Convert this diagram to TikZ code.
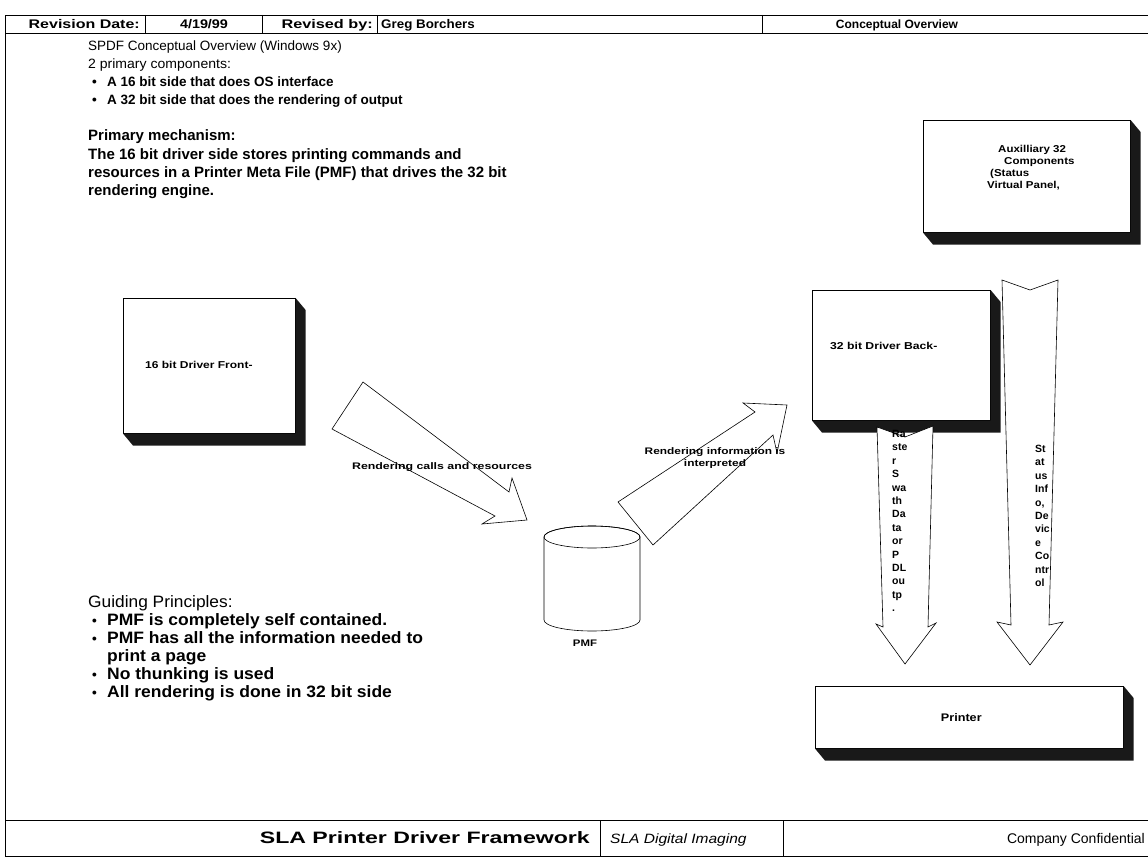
\documentclass[tikz,border=0pt]{standalone}
\usepackage{fontspec}
\setmainfont{Liberation Sans}
\usetikzlibrary{calc}
\newcommand{\sx}[2]{\scalebox{#1}[1]{#2}}
\newcommand{\bul}{{\fontsize{13.5}{16}\selectfont\makebox[19pt][l]{\hspace{4pt}\textbullet}}}
\begin{document}
\begin{tikzpicture}[x=1pt,y=-1pt,
  frameline/.style={line width=0.9pt},
  thinline/.style={line width=0.6pt},
  face/.style={draw, fill=white, line width=0.6pt, inner sep=0, anchor=north west},
  shade/.style={fill=black!90},
  blockarrow/.style={draw, fill=white, line width=0.6pt, line join=miter},
  hdr/.style={anchor=base, inner sep=0, font=\fontsize{12.5}{14}\selectfont\bfseries},
  body/.style={anchor=base west, inner sep=0, font=\fontsize{13.5}{16}\selectfont},
  bodyb/.style={body, font=\fontsize{13.5}{16}\selectfont\bfseries},
  bodyc/.style={body, font=\fontsize{15}{16}\selectfont\bfseries},
  bodyg/.style={body, font=\fontsize{16.5}{18}\selectfont\bfseries},
  dtxt/.style={inner sep=0, font=\fontsize{9.5}{12}\selectfont\bfseries},
  vtxt/.style={inner sep=0, anchor=north west, align=left, font=\fontsize{10.5}{13.4}\selectfont\bfseries}
]
\useasboundingbox (0,0) rectangle (1148,858);

% ---------- frame ----------
\draw[frameline] (1148,15) -- (5,15) -- (5,856) -- (1148,856);
\draw[frameline] (5,33) -- (1148,33);
\draw[frameline] (5,820) -- (1148,820);
\draw[thinline] (145,15) -- (145,33);
\draw[thinline] (262,15) -- (262,33);
\draw[thinline] (377,15) -- (377,33);
\draw[thinline] (762,15) -- (762,33);
\draw[thinline] (600,820) -- (600,856);
\draw[thinline] (783,820) -- (783,856);

% ---------- header ----------
\node[hdr, anchor=base east] (h1) at (140,28.5) {\sx{1.28}{Revision Date:}};
\node[hdr] (h2) at (204,28.5) {\sx{1.15}{4/19/99}};
\node[hdr, anchor=base east] (h3) at (373,28.5) {\sx{1.3}{Revised by:}};
\node[hdr, anchor=base west] (h4) at (381,28.5) {\sx{1.07}{Greg Borchers}};
\node[hdr, font=\fontsize{12}{14}\selectfont\bfseries] (h5) at (897,28.5) {Conceptual Overview};

% ---------- footer ----------
\node[anchor=base east, inner sep=0, font=\fontsize{16.5}{18}\selectfont\bfseries] (f1) at (590,843) {\sx{1.4}{SLA Printer Driver Framework}};
\node[anchor=base west, inner sep=0, font=\fontsize{13.5}{16}\selectfont\itshape] (f2) at (610,843) {\sx{1.15}{SLA Digital Imaging}};
\node[anchor=base east, inner sep=0, font=\fontsize{14}{16}\selectfont] (f3) at (1145,843) {Company Confidential};

% ---------- left text ----------
\node[body] (t1) at (88,51) {SPDF Conceptual Overview (Windows 9x)};
\node[body] (t2) at (88,69) {\sx{1.04}{2 primary components:}};
\node[bodyb] (t3) at (88,87) {\bul A 16 bit side that does OS interface};
\node[bodyb] (t4) at (88,105) {\bul A 32 bit side that does the rendering of output};
\node[bodyc] (t5) at (88,141) {Primary mechanism:};
\node[bodyc] (t6) at (88,160) {The 16 bit driver side stores printing commands and};
\node[bodyc] (t7) at (88,178) {resources in a Printer Meta File (PMF) that drives the 32 bit};
\node[bodyc] (t8) at (88,196) {rendering engine.};

\node[body, font=\fontsize{16.5}{18}\selectfont] (g1) at (88,607) {\sx{1.05}{Guiding Principles:}};
\node[bodyg] (g2) at (88,625) {\bul\sx{1.06}{PMF is completely self contained.}};
\node[bodyg] (g3) at (88,643) {\bul\sx{1.06}{PMF has all the information needed to}};
\node[bodyg] (g4) at (88,661) {\hspace{19pt}\sx{1.06}{print a page}};
\node[bodyg] (g5) at (88,679) {\bul\sx{1.06}{No thunking is used}};
\node[bodyg] (g6) at (88,697) {\bul\sx{1.06}{All rendering is done in 32 bit side}};

% ---------- 3D boxes ----------
% front
\node[face, minimum width=172, minimum height=135] (front) at (123,298) {};
\fill[shade] (front.north east) -- ++(10,12) -- ($(front.south east)+(10,12)$) -- ($(front.south west)+(10,12)$) -- (front.south west) -- (front.south east) -- cycle;
\node[dtxt, anchor=west, font=\fontsize{10}{12}\selectfont\bfseries] (frontt) at (145,365) {\sx{1.2}{16 bit Driver Front-}};
% back
\node[face, minimum width=178, minimum height=130] (back) at (812,290) {};
\fill[shade] (back.north east) -- ++(10,12) -- ($(back.south east)+(10,12)$) -- ($(back.south west)+(10,12)$) -- (back.south west) -- (back.south east) -- cycle;
\node[dtxt, anchor=west, font=\fontsize{10}{12}\selectfont\bfseries] (backt) at (830,346) {\sx{1.22}{32 bit Driver Back-}};
% auxiliary
\node[face, minimum width=207, minimum height=112] (aux) at (923,120) {};
\fill[shade] (aux.north east) -- ++(10,12) -- ($(aux.south east)+(10,12)$) -- ($(aux.south west)+(10,12)$) -- (aux.south west) -- (aux.south east) -- cycle;
\node[dtxt, anchor=north west, align=left, font=\fontsize{10}{12}\selectfont\bfseries] (auxt) at (987,145) {\hspace*{11pt}\sx{1.15}{Auxilliary 32}\\\hspace*{17pt}\sx{1.15}{Components}\\\hspace*{3pt}\sx{1.15}{(Status}\\\sx{1.15}{Virtual Panel,}};
% printer
\node[face, minimum width=308, minimum height=62] (printer) at (815,686) {};
\fill[shade] (printer.north east) -- ++(10,12) -- ($(printer.south east)+(10,12)$) -- ($(printer.south west)+(10,12)$) -- (printer.south west) -- (printer.south east) -- cycle;
\node[dtxt, font=\fontsize{11}{12}\selectfont\bfseries] (printert) at ($(printer.center)+(-8,0)$) {\sx{1.15}{Printer}};

% ---------- PMF cylinder ----------
\coordinate (pmfc) at (592,537);
\draw[fill=white, thinline] (544,537) -- (544,620) arc[start angle=180, end angle=0, x radius=48, y radius=11] -- (640,537) arc[start angle=0, end angle=-180, x radius=48, y radius=11] -- cycle;
\draw[thinline] (pmfc) ellipse[x radius=48, y radius=11];
\node[dtxt] (pmf) at (585,643) {\sx{1.2}{PMF}};

% ---------- block arrows ----------
\draw[blockarrow] (363,382) -- (332,429) -- (495,516) -- (482,524) -- (527,520) -- (512,478) -- (509,492) -- cycle;
\node[dtxt] (lab1) at (442,467) {\sx{1.3}{Rendering calls and resources}};

\draw[blockarrow] (618,502) -- (755,412) -- (743,403) -- (787,405) -- (777,453) -- (773,435) -- (653,545) -- cycle;
\node[dtxt, align=center] (lab2) at (715,458) {\sx{1.25}{Rendering information is}\\\sx{1.25}{interpreted}};

% raster arrow
\draw[blockarrow] (877,427) -- (905,437) -- (933,426) -- (928,627) -- (936,623) -- (905,664) -- (876,624) -- (883,627) -- cycle;
\node[vtxt] (rast) at (892,430) {Ra\\ste\\r\\S\\wa\\th\\Da\\ta\\or\\P\\DL\\ou\\tp\\.};
% status arrow
\draw[blockarrow] (1002,280) -- (1030,290) -- (1058,280) -- (1049,625) -- (1063,622) -- (1030,665) -- (997,622) -- (1011,625) -- cycle;
\node[vtxt] (stat) at (1035,445) {St\\at\\us\\Inf\\o,\\De\\vic\\e\\Co\\ntr\\ol};
\end{tikzpicture}
\end{document}
